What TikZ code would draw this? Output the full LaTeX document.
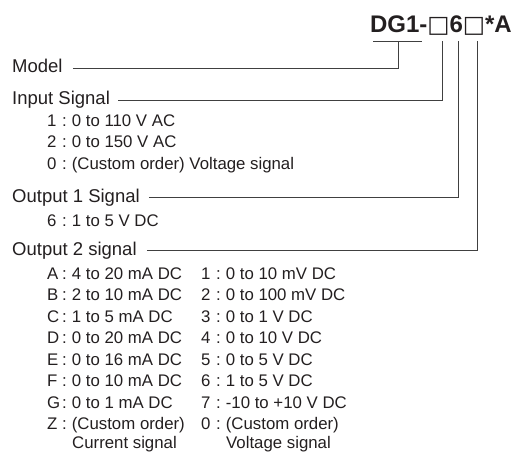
\documentclass[tikz,border=0pt]{standalone}
\usepackage{fontspec}
\setmainfont{Liberation Sans}
\newfontfamily\boxfont{DejaVu Sans}
\usepackage{xcolor}
\usetikzlibrary{positioning}
\definecolor{ink}{HTML}{231F20}
\tikzset{
  % text styles
  head/.style={anchor=base west, inner sep=0pt, text=ink, font=\fontsize{18.5}{20}\selectfont},
  item/.style={anchor=base west, inner sep=0pt, text=ink, font=\fontsize{16.8}{18}\selectfont},
  % leader lines
  lead/.style={draw=black!75, line width=0.8pt},
}
\newcommand{\kv}[2]{\makebox[15pt][l]{#1}:\hspace{5pt}#2}
\newcommand{\blank}{{\boxfont\mdseries\fontsize{23.5}{24}\selectfont\char"25A1}}

\begin{document}
\begin{tikzpicture}[x=1pt, y=-1pt]
    \useasboundingbox (0,0) rectangle (516,452);
    % Model code
    \node[anchor=base east, inner sep=0pt, text=ink, font=\bfseries\fontsize{24}{26}\selectfont] (code) at (512,33) {DG1-\blank6\blank*A};
    \coordinate (bl) at (373,41);
    \coordinate (br) at (422,41);
    \coordinate (kmodel) at (398,41);
    \coordinate (kin) at (442,41);
    \coordinate (kout1) at (458,41);
    \coordinate (kout2) at (477,41);
    \draw[lead] (bl) -- (br);
    % Headings
    \node[head] (model) at (12,72) {Model};
    \node[head] (input) at (12,104) {Input Signal};
    \node[head] (out1) at (12,202) {Output 1 Signal};
    \node[head] (out2) at (12,255) {Output 2 signal};
    % Leaders
    \coordinate (lmodel) at (398,68);
    \coordinate (lin) at (442,100);
    \coordinate (lout1) at (458,197);
    \coordinate (lout2) at (477,250);
    \draw[lead] (model.east |- lmodel) ++(10,0) -- (lmodel) -- (kmodel);
    \draw[lead] (input.east |- lin) ++(8,0) -- (lin) -- (kin);
    \draw[lead] (out1.east |- lout1) ++(9,0) -- (lout1) -- (kout1);
    \draw[lead] (out2.east |- lout2) ++(10,0) -- (lout2) -- (kout2);
    % Input signal codes
    \node[item] (in1) at (47,126) {\kv{1}{0 to 110 V AC}};
    \node[item] (in2) at (47,147.5) {\kv{2}{0 to 150 V AC}};
    \node[item] (in0) at (47,169) {\kv{0}{(Custom order) Voltage signal}};
    % Output 1 code
    \node[item] (o16) at (47,226) {\kv{6}{1 to 5 V DC}};
    % Output 2 codes: current / voltage
    \foreach \k/\v/\n/\w [count=\i] in {A/4 to 20 mA DC/1/0 to 10 mV DC,
        B/2 to 10 mA DC/2/0 to 100 mV DC, C/1 to 5 mA DC/3/0 to 1 V DC,
        D/0 to 20 mA DC/4/0 to 10 V DC, E/0 to 16 mA DC/5/0 to 5 V DC,
        F/0 to 10 mA DC/6/1 to 5 V DC, G/0 to 1 mA DC/7/-10 to +10 V DC,
        Z/(Custom order)/0/(Custom order)} {
      \node[item] (cur\i) at (47,{279+(\i-1)*21.5}) {\kv{\k}{\v}};
      \node[item] (vol\i) at (201,{279+(\i-1)*21.5}) {\kv{\n}{\w}};
    }
    \node[item] (curnote) at (72,448) {Current signal};
    \node[item] (volnote) at (226,448) {Voltage signal};
\end{tikzpicture}
\end{document}
